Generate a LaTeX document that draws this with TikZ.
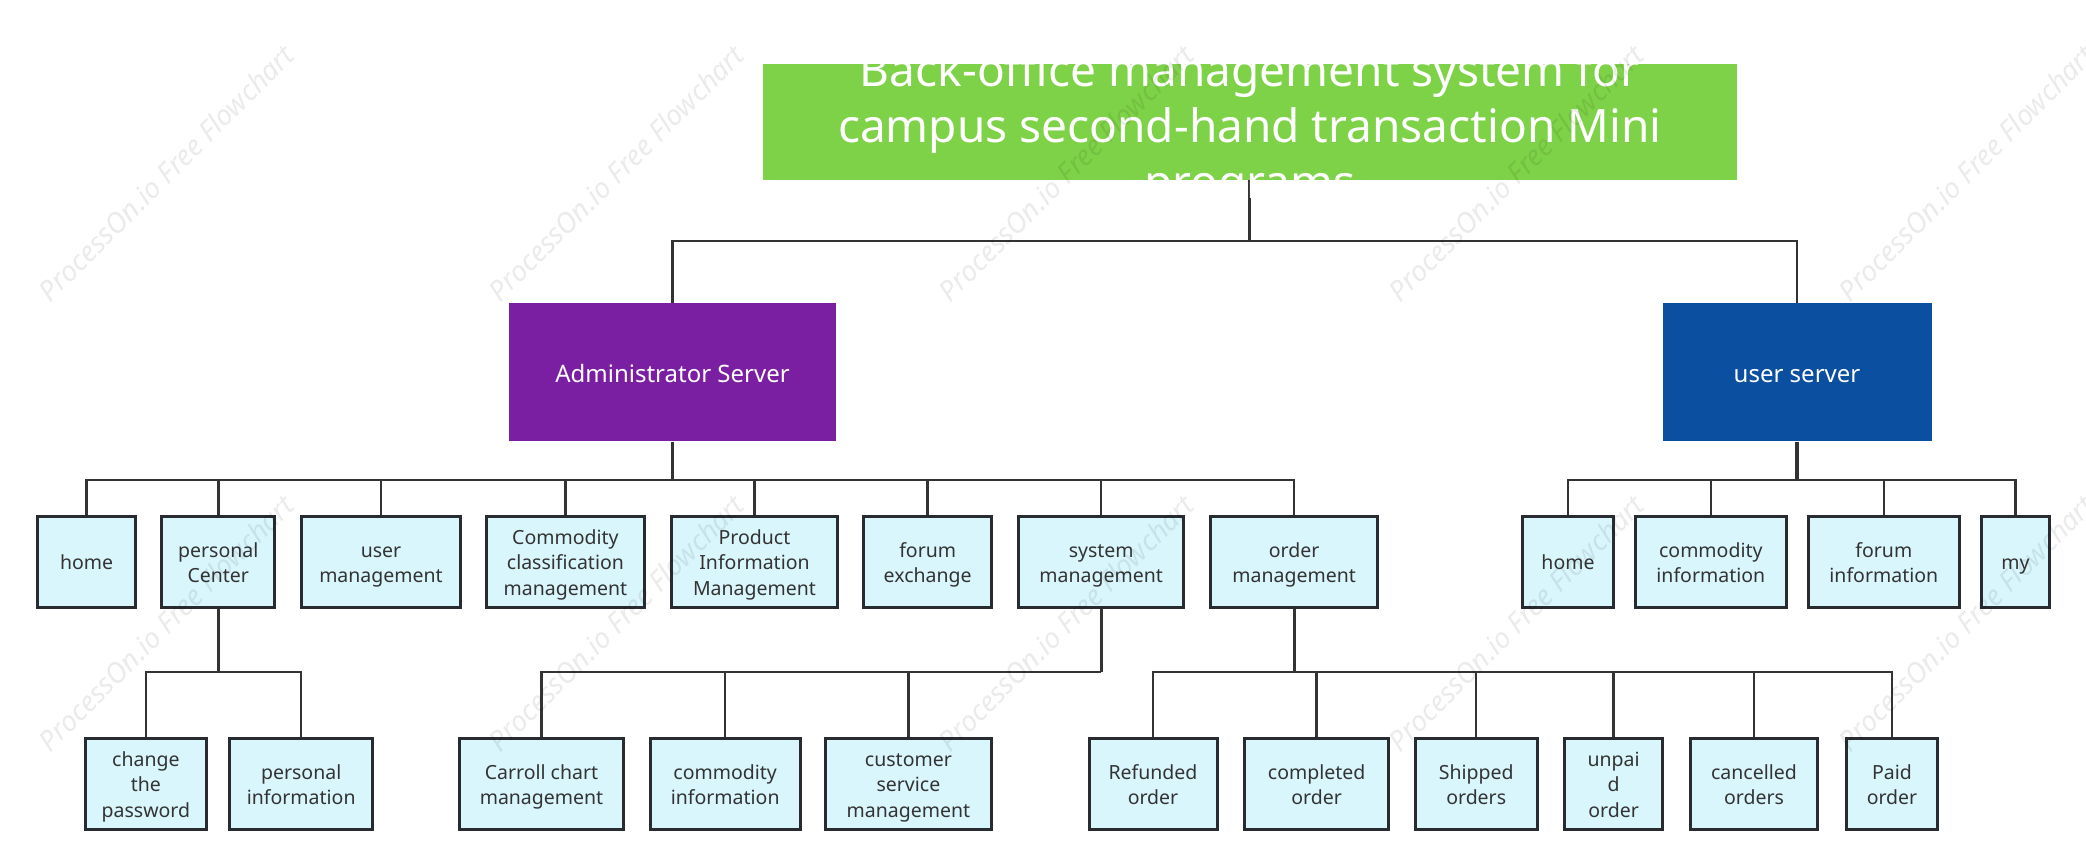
\documentclass[tikz,border=0pt]{standalone}
\usepackage{fontspec}
\setmainfont{Noto Sans}
\definecolor{titlegreen}{RGB}{126,210,71}
\definecolor{adminpurple}{RGB}{123,31,162}
\definecolor{userblue}{RGB}{10,79,160}
\definecolor{leaffill}{RGB}{217,246,252}
\definecolor{boxline}{RGB}{40,44,48}
\definecolor{linecol}{RGB}{51,51,51}
\definecolor{leaftext}{RGB}{51,51,51}
\newcommand\lffont{\fontsize{19.5}{25.5}\selectfont}
\newcommand\srvfont{\fontsize{24}{30}\selectfont}
\newcommand\ttlfont{\fontsize{46}{56}\selectfont}
\newcommand\wmkfont{\fontsize{28}{32}\selectfont\itshape}
\newcommand\lt[1]{\raisebox{-3.3pt}[\height][\depth]{\begin{tabular}{@{}c@{}}#1\end{tabular}}}
\tikzset{
  leaf/.style={draw=boxline, line width=3pt, fill=leaffill, text=leaftext, font=\lffont, inner sep=0pt, minimum height=91pt},
  server/.style={inner sep=0pt, text=white, font=\srvfont, minimum height=138pt, text height=20.5pt, text depth=0pt},
  conn/.style={draw=linecol, line width=2.5pt},
  stem/.style={draw=linecol, line width=3.2pt},
  wmark/.style={font=\wmkfont, text=black, text opacity=0.08, rotate=45, inner sep=0pt},
}
\begin{document}
\begin{tikzpicture}[x=1pt,y=-1pt]
\useasboundingbox (0,0) rectangle (2086,866);
% title
\node[fill=titlegreen, inner sep=0pt, minimum width=974pt, minimum height=116pt] (title) at (1249.7,122) {};
% servers
\node[server, fill=adminpurple, minimum width=327pt] (admin) at (672.5,372.5) {Administrator Server};
\node[server, fill=userblue, minimum width=269pt] (user) at (1797,372.5) {user server};
% level 2 admin children
\node[leaf, minimum width=98pt] (a1) at (86.6,561.5) {\lt{home}};
\node[leaf, minimum width=113pt] (a2) at (218.3,561.5) {\lt{personal\\Center}};
\node[leaf, minimum width=158.5pt] (a3) at (381,561.5) {\lt{user\\management}};
\node[leaf, minimum width=157.6pt] (a4) at (565.4,561.5) {\lt{Commodity\\classification\\management}};
\node[leaf, minimum width=165.8pt] (a5) at (754.5,561.5) {\lt{Product\\Information\\Management}};
\node[leaf, minimum width=128.5pt] (a6) at (927.7,561.5) {\lt{forum\\exchange}};
\node[leaf, minimum width=165.3pt] (a7) at (1101.2,561.5) {\lt{system\\management}};
\node[leaf, minimum width=167.4pt] (a8) at (1294.1,561.5) {\lt{order\\management}};
% user children
\node[leaf, minimum width=91pt] (u1) at (1568,561.5) {\lt{home}};
\node[leaf, minimum width=151pt] (u2) at (1710.8,561.5) {\lt{commodity\\information}};
\node[leaf, minimum width=151.3pt] (u3) at (1883.8,561.5) {\lt{forum\\information}};
\node[leaf, minimum width=68.2pt] (u4) at (2015.5,561.5) {\lt{my}};
% level 3
\node[leaf, minimum width=120.6pt] (p1) at (145.9,783.5) {\lt{change\\the\\password}};
\node[leaf, minimum width=142.5pt] (p2) at (301.2,783.5) {\lt{personal\\information}};
\node[leaf, minimum width=164pt] (s1) at (541.5,783.5) {\lt{Carroll chart\\management}};
\node[leaf, minimum width=150.4pt] (s2) at (725.2,783.5) {\lt{commodity\\information}};
\node[leaf, minimum width=165.5pt] (s3) at (908.4,783.5) {\lt{customer\\service\\management}};
\node[leaf, minimum width=128pt] (o1) at (1153,783.5) {\lt{Refunded\\order}};
\node[leaf, minimum width=143.4pt] (o2) at (1316.6,783.5) {\lt{completed\\order}};
\node[leaf, minimum width=121.6pt] (o3) at (1476.2,783.5) {\lt{Shipped\\orders}};
\node[leaf, minimum width=97.8pt] (o4) at (1613.6,783.5) {\lt{unpai\\d\\order}};
\node[leaf, minimum width=127.6pt] (o5) at (1754,783.5) {\lt{cancelled\\orders}};
\node[leaf, minimum width=90.5pt] (o6) at (1892,783.5) {\lt{Paid\\order}};
% bus coordinates
\coordinate (tb) at (1249.7,241);
\coordinate (ab) at (672.5,480);
\coordinate (ub) at (1797,480);
\coordinate (pb) at (218.3,672);
\coordinate (sb) at (1101.2,672);
\coordinate (ob) at (1294.1,672);
% connectors
\draw[stem] (title.south) -- (tb);
\draw[conn] (tb) -| (admin.north);
\draw[conn] (tb) -| (user.north);
\draw[stem] (admin.south) -- (ab);
\foreach \c in {a1,a2,a3,a4,a5,a6,a7,a8} {\draw[conn] (ab) -| (\c.north);}
\draw[stem] (user.south) -- (ub);
\foreach \c in {u1,u2,u3,u4} {\draw[conn] (ub) -| (\c.north);}
\draw[stem] (a2.south) -- (pb);
\foreach \c in {p1,p2} {\draw[conn] (pb) -| (\c.north);}
\draw[stem] (a7.south) -- (sb);
\foreach \c in {s1,s2,s3} {\draw[conn] (sb) -| (\c.north);}
\draw[stem] (a8.south) -- (ob);
\foreach \c in {o1,o2,o3,o4,o5,o6} {\draw[conn] (ob) -| (\c.north);}
% title text (white, overflowing the box)
\node[text=white, font=\ttlfont, align=center, inner sep=0pt] (titletext) at (1249.7,130) {Back-office management system for\\campus second-hand transaction Mini\\programs};
% watermarks
\foreach \i in {0,...,4} {\foreach \j in {0,1} {
  \node[wmark] (wm\i\j) at (166+450*\i,173+450*\j) {ProcessOn.io Free Flowchart};
}}
\end{tikzpicture}
\end{document}
